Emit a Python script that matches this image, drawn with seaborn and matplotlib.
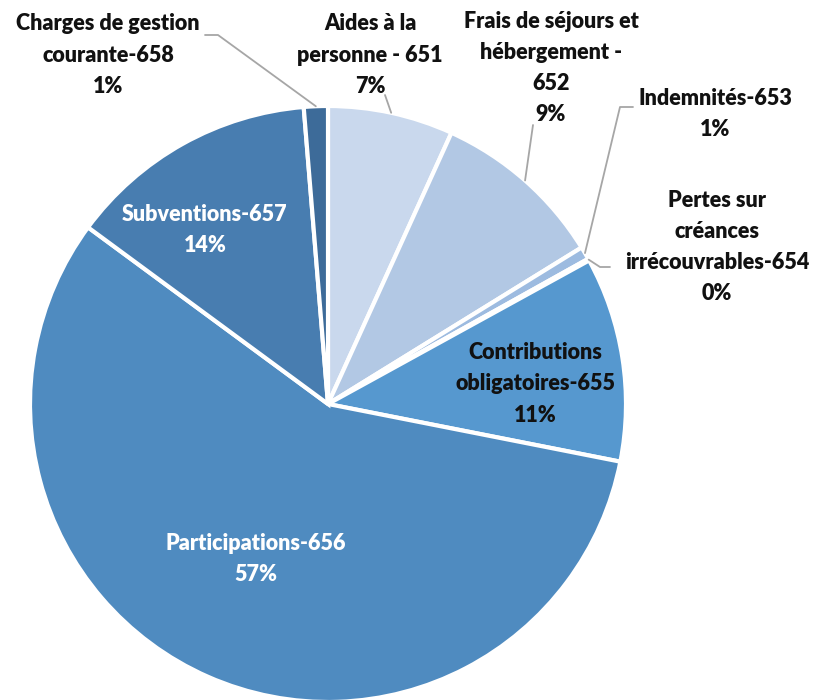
import numpy as np
import matplotlib
matplotlib.use('Agg')
import matplotlib.pyplot as plt
import seaborn as sns

sns.set_theme(style='white')
plt.rcParams['font.family'] = ['Lato', 'DejaVu Sans']

categories = ['Aides à la\npersonne - 651', 'Frais de séjours et\nhébergement -\n652',
              'Indemnités-653', 'Pertes sur\ncréances\nirrécouvrables-654',
              'Contributions\nobligatoires-655', 'Participations-656',
              'Subventions-657', 'Charges de gestion\ncourante-658']
values = [6.8, 9.4, 0.7, 0.1, 11.1, 57.0, 13.6, 1.3]
colors = ['#c9d8ed', '#b2c8e4', '#9dbbe0', '#86abd9', '#5698cf', '#4f8bc0',
          '#487db0', '#3d6b99']

# label positions in figure pixels (x, y from top), text colour, leader path
W, H = 814, 700
cx, cy, R = 328, 404, 298
label_pos = [(370, 55), (551, 68), (715, 114), (717, 247),
             (535, 384), (256, 559), (205, 230), (108, 55)]
text_cols = ['#111111'] * 5 + ['white', 'white', '#111111']
leaders = {0: [(385, 95)], 1: [(533, 125)], 2: [(620, 107), (633, 107)],
           3: [(600, 267), (610, 267)], 7: [(218, 35), (205, 35)]}

fig = plt.figure(figsize=(W / 100, H / 100), dpi=100)
ax = fig.add_axes([(cx - R) / W, (H - cy - R) / H, 2 * R / W, 2 * R / H])
wedges, _ = ax.pie(values, colors=colors, startangle=90, counterclock=False,
                   radius=1, wedgeprops=dict(edgecolor='white', linewidth=3))
ax.set_xlim(-1, 1)
ax.set_ylim(-1, 1)
ax.set_aspect('equal')
ax.axis('off')


def px(p):
    return ((p[0] - cx) / R, (cy - p[1]) / R)


total = sum(values)
for i, (lab, v) in enumerate(zip(categories, values)):
    pct = f'{round(v / total * 100)}%'
    x, y = px(label_pos[i])
    ax.text(x, y, lab + '\n' + pct, ha='center', va='center', fontsize=15.5,
            fontweight='heavy', color=text_cols[i], linespacing=1.6)
    if i in leaders:
        w = wedges[i]
        ang = np.deg2rad((w.theta1 + w.theta2) / 2)
        pts = [(np.cos(ang), np.sin(ang))] + [px(p) for p in leaders[i]]
        xs, ys = zip(*pts)
        ax.plot(xs, ys, color='#a6a6a6', lw=1.3, clip_on=False)

fig.savefig('out.png', dpi=100)
